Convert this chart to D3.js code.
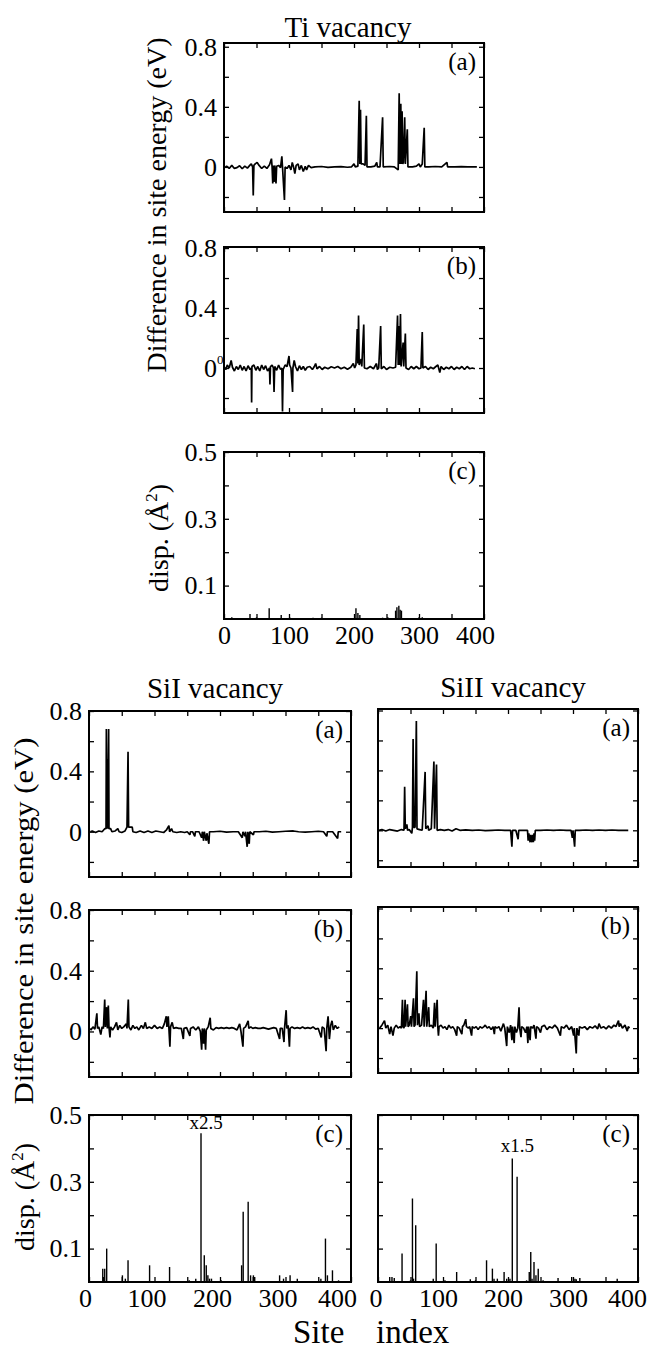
<!DOCTYPE html>
<html>

<head>
  <meta charset="utf-8">
  <script src="https://cdnjs.cloudflare.com/ajax/libs/d3/7.8.5/d3.min.js"></script>
  <style>
    body {
      margin: 0;
      background: #fff;
    }

    text {
      font-family: "Liberation Serif", "Times New Roman", serif;
      fill: #000;
    }
  </style>
</head>

<body>
  <script>
    // ---- data: [site index, value] ----
    const titles = ['Ti vacancy', 'SiI vacancy', 'SiII vacancy']
    const siteTicks = [0, 50, 100, 150, 200, 250, 300, 350, 400]
    const siteLabels = [0, 100, 200, 300, 400]
    const energyTicks = [-0.2, 0, 0.2, 0.4, 0.6, 0.8]
    const energyLabels = [0, 0.4, 0.8]
    const dispTicks = [0.1, 0.2, 0.3, 0.4, 0.5]
    const dispLabels = [0.1, 0.3, 0.5]

    const tiEnergyA = [[2,0],[4,0.005],[8,-0.01],[12,0.01],[16,-0.01],[20,-0.005],[24,0.008],[28,-0.012],[32,0.005],[36,-0.008],[40,0.012],[42,0.02],[44,0],[45,-0.19],[46,0.01],[48,0.02],[51,0.03],[54,0.01],[58,-0.01],[62,0.005],[66,-0.01],[70,0.015],[73,0.055],[74,0],[75,-0.11],[76,0.01],[77,-0.1],[78,0.01],[80,-0.11],[81,0.005],[84,0.01],[87,-0.005],[89,0.07],[90,0],[93,-0.22],[94,0],[97,-0.01],[100,0.01],[103,-0.02],[105,0.03],[107,0],[109,-0.045],[111,0.01],[114,0.02],[116,-0.02],[119,0.01],[122,-0.03],[125,0.005],[127,-0.02],[130,0.01],[134,-0.005],[140,0],[150,0.003],[160,-0.003],[170,0],[180,0.002],[190,-0.002],[196,0],[200,0.02],[202,0],[206,0.005],[208,0.44],[209,0.02],[210,0.38],[211,0.02],[214,0.02],[217,0.01],[219,0.34],[220,0],[226,0],[232,0.005],[235,0.03],[236,0],[240,0],[244,0.33],[245,0],[255,0.003],[262,0],[268,-0.02],[269.5,0.49],[270.5,0.02],[272,0.42],[273,0.02],[274,0.37],[275,0.02],[276,0.03],[278,0.33],[279,0.02],[282,0.25],[283,0],[290,0],[296,0.005],[300,0.02],[302,0],[305,0.02],[308,0.26],[309,0],[315,0],[325,0.003],[335,0],[343,0.03],[344,0],[355,0],[365,0.002],[375,0],[389,0]]

    const tiEnergyB = [[0,0.01],[3,-0.01],[5,0.02],[8,0],[11,0.05],[13,0.005],[16,-0.02],[19,0.01],[22,-0.01],[25,0.02],[28,-0.015],[31,0.01],[34,-0.02],[37,0.015],[40,-0.01],[42,0],[42.5,-0.23],[43,0.01],[46,0.02],[49,-0.015],[52,0.01],[55,-0.02],[58,0.02],[61,-0.01],[64,0.015],[67,-0.02],[70,0],[70.7,-0.11],[71.5,0.01],[74,0.02],[76,0],[77,-0.16],[78,0.01],[81,-0.015],[84,0.02],[87,-0.01],[89,0],[90,-0.29],[91,-0.01],[94,0.02],[97,0.01],[100,0.08],[101,0.02],[103,0],[105.5,-0.16],[106,0],[108,0.05],[110,0.01],[113,-0.02],[116,0.015],[119,-0.01],[122,0.01],[125,-0.015],[128,0.005],[132,0.01],[136,-0.01],[139,0.01],[141,0.03],[143,-0.005],[147,0.01],[151,-0.01],[155,0.005],[160,-0.005],[165,0.008],[170,0],[175,0.01],[180,-0.005],[185,0.005],[190,-0.008],[195,0.005],[199,0.03],[201,0],[203,0.02],[205,0.26],[206,0.03],[207,0.35],[208,0.02],[211,0.06],[212,0.01],[215,0.29],[216,0],[220,-0.005],[225,0.01],[230,-0.005],[234.6,0.03],[236,-0.01],[238,0],[241,0.28],[242,-0.005],[246,0.01],[250,-0.01],[255,0.005],[260,0],[264,0.005],[267,0.35],[268,0.02],[269,0.28],[270,0.02],[271.5,0.36],[272.5,0.01],[275.6,0.17],[276.5,0.01],[279,0.23],[280,0],[284,-0.01],[288,0.01],[292,-0.005],[296,0.01],[300,-0.005],[303,0],[305,0.24],[306,0],[310,0.01],[314,-0.01],[318,0.005],[322,-0.005],[326,0.01],[329,0.02],[332,-0.03],[334,0.01],[338,-0.01],[342,0.005],[346,-0.005],[350,0.01],[354,-0.01],[358,0.005],[362,-0.005],[366,0.01],[370,-0.01],[374,0.01],[378,-0.005],[382,0],[386,-0.005]]

    const tiDisp = [[12,0.005],[40,0.015],[50,0.005],[69.5,0.032],[88,0.012],[101,0.005],[137,0.004],[150,0.004],[203,0.032],[206,0.018],[209,0.012],[234,0.003],[244,0.004],[252,0.005],[264,0.025],[266,0.035],[269,0.04],[271,0.028],[273,0.025],[300,0.005],[305,0.005],[336,0.003]]

    const si1EnergyA = [[2,0],[5,0.005],[10,-0.005],[15,0.005],[20,0],[24,0.02],[26,0.02],[26.5,0.68],[27,0.02],[27.5,0.48],[28,0.02],[30,0.68],[30.5,0.02],[33,0.02],[35,0],[40,0.005],[44,0.02],[46,0],[50,-0.005],[55,0.005],[58,0.03],[59.6,0.53],[60.5,0.03],[63,0.03],[66,0.03],[67,0],[72,-0.005],[78,0.005],[84,-0.005],[90,0.005],[96,-0.005],[102,0.005],[108,0],[114,-0.005],[118,0.01],[122,0.04],[123,0],[126,0.02],[128,0],[134,-0.005],[140,0],[146,-0.005],[150,0],[154,-0.02],[155,0],[158,0],[161.5,-0.03],[162.5,0],[168,0],[172,-0.04],[173,0],[175,-0.06],[176,0],[179,-0.06],[180,-0.01],[183,-0.08],[184,0],[190,0],[200,0.003],[210,-0.003],[220,0],[228,0],[234,-0.04],[235,0],[238,-0.03],[239,0],[241.5,-0.1],[242.5,0],[244.6,-0.08],[245.5,0],[251,-0.02],[252,0],[260,0],[270,0.003],[280,-0.003],[290,0],[300,0.003],[312,0.005],[320,0],[330,-0.003],[340,0],[350,0.003],[358,0],[363,-0.03],[364,0],[372,0],[379.6,-0.045],[380.5,0],[385,0]]

    const si2EnergyA = [[1.5,0],[6,0.005],[12,-0.005],[18,0.005],[24,0],[30,-0.005],[36,0.005],[40,0],[41,0.29],[42,0.01],[44.4,0.04],[45.5,0],[48,0.005],[52,-0.02],[53,0.02],[54,0.61],[55,0.02],[57,0.02],[59,0.73],[60,0.01],[64,0.005],[68,0],[72.5,0.39],[73.5,0.01],[77,0.03],[78,0],[82,0.01],[86,0.46],[87,0.01],[90,0.44],[91,0],[96,0.005],[102,0],[108,0.005],[114,-0.005],[120,0.01],[126,0],[135,0.003],[145,0],[155,0.002],[165,-0.002],[175,0],[185,0.002],[195,0],[204,0],[206,-0.11],[207,0],[212,0],[215.6,-0.06],[216.5,0],[225,0],[230,0],[231,-0.07],[232,-0.02],[234,-0.08],[235,-0.03],[237,-0.08],[238,-0.03],[239,-0.08],[240,-0.02],[241,-0.07],[242,0],[250,0],[260,0.002],[270,0],[280,0.002],[290,0],[297,0],[299,-0.05],[300,0],[302.5,-0.11],[303.5,0],[310,0],[320,0.002],[330,0],[340,0.002],[350,0],[360,0.002],[370,0],[385,0]]

    const si1EnergyB = [[2,0.02],[3,0.01],[6,0.03],[9,0.015],[12,0.12],[13,0.02],[15,0.03],[18,-0.02],[20,0.03],[22,0.02],[24,0.21],[25,0.03],[27,0.16],[28,0.02],[29.5,0.17],[30.5,0.03],[32,-0.04],[33,0.03],[36,0.01],[39,0.03],[42,0.06],[44,0.01],[47,0.04],[50,0.02],[53,0.03],[57,0.05],[58,0.02],[60,0.21],[61,0.03],[64,0.01],[67,0.04],[70,0.02],[73,0.03],[76,0.01],[80,0.04],[83,0.02],[86,0.06],[88,0.02],[92,0.03],[96,0.02],[100,0.04],[104,0.02],[108,0.03],[112,0.02],[115,0.05],[118,0.1],[119,0.03],[121,0.1],[122,0.02],[123.5,-0.1],[124.5,0.03],[127,0.06],[129,0.02],[133,0.025],[137,0.02],[141,0.02],[144,-0.05],[145,0.02],[149,0.025],[154,-0.03],[155,0.02],[159,0.03],[163,0.01],[167,0.03],[170,0],[172,-0.12],[173,0.02],[175,-0.08],[176,0.02],[178,-0.12],[179,0.01],[182,0.03],[185,0.09],[186,0.02],[190,0.01],[194,0.025],[198,0.02],[202,0.025],[206,0.02],[210,0.025],[214,0.02],[218,0.025],[222,0.02],[226,0.01],[230,0.05],[232,0],[235,-0.1],[236,0.02],[239,0.03],[243,0.07],[244,0.02],[247,0.03],[250,0.02],[254,0.025],[258,0.02],[262,0.02],[266,0.025],[270,0.02],[274,0.015],[278,0.02],[282,0.025],[286,0.02],[291,-0.05],[292,0.02],[295,0.02],[297.7,-0.07],[298.5,0.02],[301,0.14],[302,0.02],[304,0.04],[306,-0.1],[307,0.02],[310,0.03],[314,0.02],[318,0.025],[322,0.02],[326,0.03],[330,0.02],[334,0.025],[338,0.02],[342,0.03],[346,0.015],[350,0.02],[354.6,-0.04],[356,0.03],[359,0.02],[362,-0.13],[363,0.02],[365,0.1],[367,-0.05],[369,0.04],[371,0.07],[373,0.01],[376,0.04],[379,0.02],[382,0.03]]

    const si2EnergyB = [[2.5,0],[6,0.02],[10,0.05],[12,0],[15,0.02],[18,-0.04],[20,0.01],[23,-0.05],[25,0],[28,0.02],[31,0],[34,0.01],[36,0],[37.6,0.19],[38.5,0.01],[40,0],[41.7,0.19],[42.5,0.01],[45.3,0.16],[46.3,0.01],[48,0.02],[50.4,0.08],[51.5,0.01],[54.6,0.2],[55.5,0.01],[57,0.02],[59.7,0.38],[60.7,0.02],[63,0.1],[64,0.01],[67,0.02],[70,0.19],[71,0.01],[74,0.25],[75,0.01],[78,0.14],[79,0.01],[82,0.02],[85,0],[87,0.17],[88,0.01],[91,0.19],[92,0.01],[93,-0.05],[94,0.01],[97,0.02],[100,0],[103,0.01],[106,-0.01],[109,0.02],[112,0],[115,0.01],[118,-0.01],[121,-0.05],[122,0.01],[125,0],[129,-0.04],[130,0.01],[132,0.02],[135,0.06],[136,0.01],[139,0],[141,0.01],[144,-0.05],[145,0.01],[148,0],[151,0.01],[154,-0.01],[157,0.01],[160,0],[163,0.01],[165,0.02],[168,0],[171,0.01],[174,-0.01],[177,0.01],[179,-0.04],[180,0.01],[183,0],[186,0.01],[189,-0.02],[193,0.03],[195,0],[198,-0.12],[199,0.01],[202,-0.03],[204,0.02],[206,-0.08],[207,0.01],[209.5,-0.1],[210.5,0.01],[213,-0.03],[215,0],[217,0.14],[218,0],[220,-0.06],[221,0.01],[224,0],[227,-0.03],[229,0.01],[230.6,-0.1],[231.5,0.01],[234,-0.08],[235,0.01],[238,0],[240,0.02],[243,-0.07],[244,0.01],[247,0],[250,-0.03],[252,0.01],[256,0.02],[260,-0.01],[264,0.01],[268,0],[272,0.02],[276,0],[280.6,-0.05],[282,0.01],[286,0],[290,0.02],[294,-0.01],[298,0.01],[301,-0.05],[302,0],[305,-0.17],[306,0],[309,-0.05],[310,0.01],[314,0],[318,0.01],[322,-0.01],[326,0.01],[330,0],[334,0.015],[338,-0.005],[340,0.03],[343,0],[347,0.01],[351,-0.005],[355,0.015],[359,0],[363,0.02],[366,0.01],[370,0.05],[371,0.01],[373,0.03],[376,0],[380,0.02],[383.5,-0.02],[385,0.01],[387,0]]

    const si1Disp = [[21,0.04],[22,0.015],[24,0.04],[27,0.10],[51,0.02],[55.5,0.01],[59.6,0.065],[92.5,0.05],[123,0.045],[153,0.005],[163,0.01],[171,0.445],[176,0.08],[179,0.05],[181.5,0.02],[184,0.01],[187,0.01],[202,0.005],[233,0.05],[235.4,0.21],[243,0.24],[246.7,0.02],[251,0.02],[253,0.015],[291,0.02],[297,0.01],[307,0.02],[318,0.01],[354,0.01],[361,0.13],[364,0.02],[371.7,0.035],[381,0.005]]

    const si2Disp = [[18,0.015],[21.5,0.015],[25,0.012],[37,0.085],[50,0.005],[53,0.25],[54.7,0.01],[58,0.17],[85,0.01],[89.5,0.115],[103,0.005],[121,0.03],[136.6,0.003],[142,0.008],[150,0.005],[167,0.065],[176,0.04],[178.5,0.01],[183.6,0.01],[194,0.03],[198,0.01],[203,0.01],[206.6,0.37],[214,0.315],[228.6,0.005],[232.7,0.03],[235,0.09],[237,0.01],[240,0.06],[243,0.02],[246.5,0.04],[254,0.005],[267,0.003],[277,0.012],[298,0.015],[303,0.01],[305,0.008],[310.5,0.012],[351,0.003],[368,0.01],[377,0.003]]

    // ---- drawing ----
    const svg = d3.select('body').append('svg').attr('width', 647).attr('height', 1351)
    const serif = '"Liberation Serif", "Times New Roman", serif'
    let clipCount = 0

    function panel(box, yDomain, kind, data, opt) {
      const x = d3.scaleLinear().domain([0, 400]).range([box.x0, box.x1])
      const y = d3.scaleLinear().domain(yDomain).range([box.y1, box.y0])
      const g = svg.append('g')
      const id = 'clip' + (clipCount++)
      g.append('clipPath').attr('id', id).append('rect')
        .attr('x', box.x0).attr('y', box.y0)
        .attr('width', box.x1 - box.x0).attr('height', box.y1 - box.y0)
      const plot = g.append('g').attr('clip-path', `url(#${id})`)

      if (kind === 'line') {
        const line = d3.line().x(d => x(d[0])).y(d => y(d[1]))
        plot.append('path').datum(data).attr('d', line)
          .attr('fill', 'none').attr('stroke', '#000')
          .attr('stroke-width', 1.7).attr('stroke-linejoin', 'bevel')
      } else {
        plot.selectAll('line').data(data).join('line')
          .attr('x1', d => x(d[0])).attr('x2', d => x(d[0]))
          .attr('y1', y(0)).attr('y2', d => y(d[1]))
          .attr('stroke', '#000').attr('stroke-width', 1.4)
      }

      const yt = kind === 'line' ? energyTicks : dispTicks
      const yl = kind === 'line' ? energyLabels : dispLabels
      const fmtY = d => (opt.yText && yl.includes(d)) ? String(d) : ''
      const fmtX = d => (opt.xText && siteLabels.includes(d)) ? String(d) : ''

      const axes = [
        g.append('g').attr('transform', `translate(${box.x0},0)`)
          .call(d3.axisLeft(y).tickValues(yt).tickSize(-5).tickPadding(7).tickFormat(fmtY)),
        g.append('g').attr('transform', `translate(${box.x1},0)`)
          .call(d3.axisRight(y).tickValues(yt).tickSize(-5).tickFormat('')),
        g.append('g').attr('transform', `translate(0,${box.y0})`)
          .call(d3.axisTop(x).tickValues(siteTicks).tickSize(-5).tickFormat('')),
        g.append('g').attr('transform', `translate(0,${box.y1})`)
          .call(d3.axisBottom(x).tickValues(siteTicks).tickSize(-5).tickPadding(7).tickFormat(fmtX))
      ]
      axes.forEach(a => {
        a.select('.domain').remove()
        a.attr('font-family', serif).attr('font-size', 26)
        a.selectAll('line').attr('stroke-width', 1.3)
      })
      if (opt.xText) {
        axes[3].selectAll('text')
          .attr('dx', d => d === 0 ? opt.shift / 2 : (d === 400 ? opt.lastShift : opt.shift))
      }

      g.append('rect')
        .attr('x', box.x0).attr('y', box.y0)
        .attr('width', box.x1 - box.x0).attr('height', box.y1 - box.y0)
        .attr('fill', 'none').attr('stroke', '#000').attr('stroke-width', 2)

      g.append('text').attr('x', box.x1 - 8).attr('y', box.y0 + 27)
        .attr('text-anchor', 'end').attr('font-size', 25).text(opt.letter)
      return { x, y }
    }

    const tiX = { x0: 224, x1: 484 }
    const s1X = { x0: 89, x1: 351 }
    const s2X = { x0: 378, x1: 638 }

    panel({ ...tiX, y0: 43, y1: 212 }, [-0.3, 0.825], 'line', tiEnergyA, { letter: '(a)', yText: true })
    panel({ ...tiX, y0: 247, y1: 413 }, [-0.3, 0.807], 'line', tiEnergyB, { letter: '(b)', yText: true })
    panel({ ...tiX, y0: 452, y1: 619 }, [0, 0.5], 'bar', tiDisp, { letter: '(c)', yText: true, xText: true, shift: 0, lastShift: -9 })

    panel({ ...s1X, y0: 711, y1: 877 }, [-0.3, 0.8], 'line', si1EnergyA, { letter: '(a)', yText: true })
    panel({ ...s1X, y0: 910, y1: 1077 }, [-0.3, 0.8], 'line', si1EnergyB, { letter: '(b)', yText: true })
    const s1c = panel({ ...s1X, y0: 1115, y1: 1282 }, [0, 0.5], 'bar', si1Disp, { letter: '(c)', yText: true, xText: true, shift: -8, lastShift: -14 })

    panel({ ...s2X, y0: 709, y1: 867 }, [-0.245, 0.81], 'line', si2EnergyA, { letter: '(a)' })
    panel({ ...s2X, y0: 907, y1: 1073 }, [-0.3, 0.81], 'line', si2EnergyB, { letter: '(b)' })
    const s2c = panel({ ...s2X, y0: 1115, y1: 1282 }, [0, 0.5], 'bar', si2Disp, { letter: '(c)', xText: true, shift: -5, lastShift: -11 })

    // odd superscript next to the 0 label of Ti (b)
    svg.append('text').attr('x', 217).attr('y', 364).attr('font-size', 13).text('0')

    // scale notes on the tallest bars
    const big1 = si1Disp.find(d => d[1] === d3.max(si1Disp, v => v[1]))
    const big2 = si2Disp.find(d => d[1] === d3.max(si2Disp, v => v[1]))
    svg.append('text').attr('x', s1c.x(big1[0]) + 5).attr('y', s1c.y(big1[1]) - 4)
      .attr('text-anchor', 'middle').attr('font-size', 19).text('x2.5')
    svg.append('text').attr('x', s2c.x(big2[0]) + 5).attr('y', s2c.y(big2[1]) - 6)
      .attr('text-anchor', 'middle').attr('font-size', 19).text('x1.5')

    // titles
    svg.append('text').attr('x', 348).attr('y', 37).attr('text-anchor', 'middle').attr('font-size', 29).text(titles[0])
    svg.append('text').attr('x', 215).attr('y', 698).attr('text-anchor', 'middle').attr('font-size', 29).text(titles[1])
    svg.append('text').attr('x', 513).attr('y', 697).attr('text-anchor', 'middle').attr('font-size', 29).text(titles[2])

    // y axis titles
    function yTitle(xPos, yMid, len) {
      svg.append('text').attr('transform', `translate(${xPos},${yMid}) rotate(-90)`)
        .attr('text-anchor', 'middle').attr('font-size', 27)
        .attr('textLength', len).attr('lengthAdjust', 'spacingAndGlyphs')
        .text('Difference in site energy (eV)')
    }
    function dispTitle(xPos, yMid) {
      const t = svg.append('text').attr('transform', `translate(${xPos},${yMid}) rotate(-90)`)
        .attr('text-anchor', 'middle').attr('font-size', 28)
      t.append('tspan').text('disp. (Å')
      t.append('tspan').attr('font-size', 17).attr('dy', -11).text('2')
      t.append('tspan').attr('dy', 11).text(')')
    }
    yTitle(166, 205, 335)
    dispTitle(168, 538)
    yTitle(33, 921, 367)
    dispTitle(34, 1197)

    // shared x title
    svg.append('text').attr('x', 293).attr('y', 1343).attr('font-size', 33).text('Site')
    svg.append('text').attr('x', 376).attr('y', 1343).attr('font-size', 33).text('index')
  </script>
</body>

</html>
